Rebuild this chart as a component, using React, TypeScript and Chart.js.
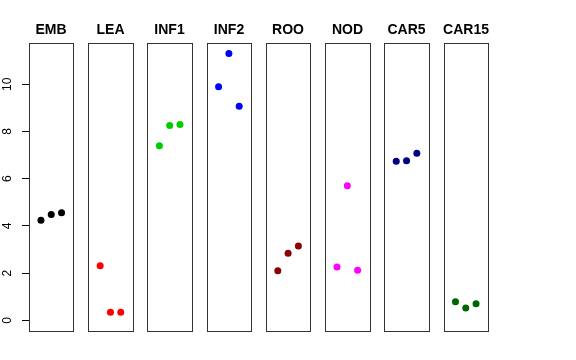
import React, { useEffect, useRef } from "react";
import { Chart, registerables } from "chart.js";
Chart.register(...registerables);

const categories = ["EMB", "LEA", "INF1", "INF2", "ROO", "NOD", "CAR5", "CAR15"];
const colors = ["#000000", "#FF0000", "#00CD00", "#0000FF", "#8B0000", "#FF00FF", "#000080", "#006400"];
const embValues = [4.24, 4.49, 4.56];
const leaValues = [2.31, 0.34, 0.34];
const inf1Values = [7.4, 8.26, 8.3];
const inf2Values = [9.9, 11.31, 9.07];
const rooValues = [2.1, 2.84, 3.15];
const nodValues = [2.26, 5.7, 2.12];
const car5Values = [6.74, 6.76, 7.08];
const car15Values = [0.79, 0.52, 0.7];
const yTicks = [0, 2, 4, 6, 8, 10];

const seriesValues = [embValues, leaValues, inf1Values, inf2Values, rooValues, nodValues, car5Values, car15Values];

// layout constants (panel pitch / per-panel x range in data units)
const PITCH = 5.75;
const XLO = -0.16;
const XHI = 4.16;

export default function App() {
  const ref = useRef<HTMLCanvasElement | null>(null);
  useEffect(() => {
    if (!ref.current) return;
    const panelPlugin = {
      id: "panels",
      beforeDatasetsDraw(chart: any) {
        const { ctx, chartArea } = chart;
        const xs = chart.scales.x;
        ctx.save();
        categories.forEach((name, i) => {
          const x0 = Math.round(xs.getPixelForValue(i * PITCH + XLO));
          const x1 = Math.round(xs.getPixelForValue(i * PITCH + XHI));
          const y0 = Math.round(chartArea.top);
          const y1 = Math.round(chartArea.bottom);
          ctx.strokeStyle = "#333333";
          ctx.lineWidth = 1;
          ctx.strokeRect(x0 + 0.5, y0 + 0.5, x1 - x0, y1 - y0);
          ctx.fillStyle = "#000000";
          ctx.font = "bold 14px 'Liberation Sans', Arial, sans-serif";
          ctx.textAlign = "center";
          ctx.textBaseline = "alphabetic";
          ctx.fillText(name, (x0 + x1) / 2, 34);
        });
        ctx.restore();
      },
    };
    const chart = new Chart(ref.current, {
      type: "scatter",
      data: {
        datasets: categories.map((name, i) => ({
          label: name,
          data: seriesValues[i].map((v, j) => ({ x: i * PITCH + j + 1, y: v })),
          backgroundColor: colors[i],
          borderColor: colors[i],
          borderWidth: 0,
          pointRadius: 3.5,
          showLine: false,
        })),
      },
      options: {
        animation: false,
        responsive: false,
        devicePixelRatio: 1,
        layout: { padding: { left: 0, right: 88, top: 43, bottom: 29 } },
        plugins: { legend: { display: false }, tooltip: { enabled: false }, title: { display: false } },
        scales: {
          x: {
            type: "linear",
            display: false,
            min: XLO,
            max: 7 * PITCH + XHI,
          },
          y: {
            type: "linear",
            min: -0.45,
            max: 11.75,
            afterBuildTicks: (scale: any) => {
              scale.ticks = yTicks.map((v) => ({ value: v }));
            },
            afterFit: (scale: any) => {
              scale.width = 29;
            },
            border: { display: false },
            grid: {
              display: true,
              drawOnChartArea: false,
              drawTicks: true,
              tickLength: 7,
              tickColor: "#000000",
              color: "#000000",
            },
            ticks: {
              color: "#000000",
              font: { family: "'Liberation Sans', Arial, sans-serif", size: 12 },
              minRotation: 90,
              maxRotation: 90,
              crossAlign: "center",
              padding: 8,
              callback: (v: any) => String(v),
            },
          },
        },
      },
      plugins: [panelPlugin],
    });
    return () => chart.destroy();
  }, []);
  return (
    <div style={{ position: "absolute", left: 0, top: 0, width: 576, height: 360, background: "#ffffff" }}>
      <canvas ref={ref} width={576} height={360} />
    </div>
  );
}
